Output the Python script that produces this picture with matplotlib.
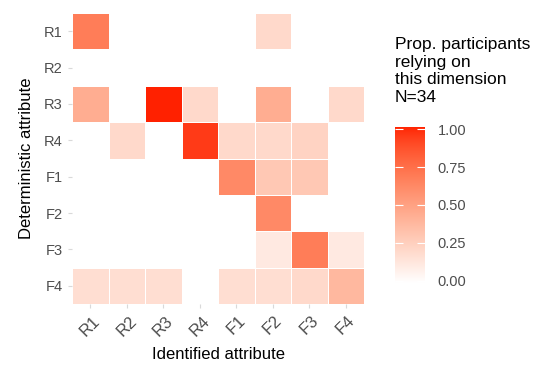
import numpy as np
import matplotlib
matplotlib.use("Agg")
import matplotlib.pyplot as plt
from matplotlib.colors import ListedColormap

plt.rcParams['font.family'] = ['Liberation Sans', 'DejaVu Sans']

# data: proportion of participants (N=34), rows = deterministic, cols = identified
labels = ['R1', 'R2', 'R3', 'R4', 'F1', 'F2', 'F3', 'F4']
counts = [
    [23, 0, 0, 0, 0, 7, 0, 0],    # R1
    [0, 0, 0, 0, 0, 0, 0, 0],     # R2
    [15, 0, 34, 7, 0, 15, 0, 7],  # R3
    [0, 7, 0, 32, 7, 7, 8, 0],    # R4
    [0, 0, 0, 0, 21, 10, 10, 0],  # F1
    [0, 0, 0, 0, 0, 21, 0, 0],    # F2
    [0, 0, 0, 0, 0, 4, 23, 4],    # F3
    [6, 6, 6, 0, 6, 6, 7, 13],    # F4
]
n_part = 34
prop = np.array(counts) / n_part
legend_ticks = [0, 0.25, 0.5, 0.75, 1.0]


# ggplot-like white -> red gradient interpolated in Lab space
def srgb_to_lab(c):
    c = np.asarray(c, float)
    lin = np.where(c <= 0.04045, c / 12.92, ((c + 0.055) / 1.055) ** 2.4)
    M = np.array([[0.4124, 0.3576, 0.1805],
                  [0.2126, 0.7152, 0.0722],
                  [0.0193, 0.1192, 0.9505]])
    xyz = M @ lin / np.array([0.95047, 1.0, 1.08883])
    f = np.where(xyz > 0.008856, np.cbrt(xyz), 7.787 * xyz + 16 / 116)
    return np.array([116 * f[1] - 16, 500 * (f[0] - f[1]), 200 * (f[1] - f[2])])


def lab_to_srgb(lab):
    L, a, b = lab
    fy = (L + 16) / 116
    fx = fy + a / 500
    fz = fy - b / 200
    f = np.array([fx, fy, fz])
    xyz = np.where(f ** 3 > 0.008856, f ** 3, (f - 16 / 116) / 7.787)
    xyz = xyz * np.array([0.95047, 1.0, 1.08883])
    Minv = np.array([[3.2406, -1.5372, -0.4986],
                     [-0.9689, 1.8758, 0.0415],
                     [0.0557, -0.2040, 1.0570]])
    lin = Minv @ xyz
    c = np.where(lin <= 0.0031308, 12.92 * lin, 1.055 * np.clip(lin, 0, None) ** (1 / 2.4) - 0.055)
    return np.clip(c, 0, 1)


lo = srgb_to_lab([1, 1, 1])
hi = srgb_to_lab([1, 0.13, 0.0])
cols = [lab_to_srgb(lo + t * (hi - lo)) for t in np.linspace(0, 1, 256)]
cmap = ListedColormap(cols)

fig = plt.figure(figsize=(5.53, 3.72), dpi=100)
ax = fig.add_axes([72 / 553, 1 - 304 / 372, 292 / 553, 291 / 372])
mesh = ax.pcolormesh(np.arange(9), np.arange(9), prop, cmap=cmap, vmin=0, vmax=1,
                     edgecolors='white', linewidth=0.6)
ax.set_xlim(0, 8)
ax.set_ylim(8, 0)
ax.set_xticks(np.arange(8) + 0.5)
ax.set_xticklabels(labels, rotation=45, ha='center', va='top', fontsize=12, color='#4D4D4D')
ax.set_yticks(np.arange(8) + 0.5)
ax.set_yticklabels(labels, fontsize=10.5, color='#4D4D4D')
ax.tick_params(length=3, color='#D9D9D9', width=0.8)
for s in ax.spines.values():
    s.set_visible(False)
ax.set_xlabel('Identified attribute', fontsize=12, labelpad=6)
ax.set_ylabel('Deterministic attribute', fontsize=12, labelpad=7)

# legend colour bar
cax = fig.add_axes([395 / 553, 1 - 283 / 372, 30 / 553, 156 / 372])
cax.imshow(np.linspace(0, 1, 256)[:, None], cmap=cmap, aspect='auto',
           extent=[0, 1, -0.015, 1.015], origin='lower', vmin=0, vmax=1)
cax.set_xlim(0, 1)
cax.set_ylim(-0.015, 1.015)
cax.set_xticks([])
cax.yaxis.tick_right()
cax.set_yticks(legend_ticks)
cax.set_yticklabels(['%.2f' % t for t in legend_ticks], fontsize=10.5, color='#4D4D4D')
cax.tick_params(axis='y', left=True, right=True, length=6, color='white',
                width=0.8, direction='in', pad=9)
for s in cax.spines.values():
    s.set_visible(False)
fig.text(395 / 553, 1 - 37 / 372,
         'Prop. participants\nrelying on\nthis dimension\nN=' + str(n_part),
         fontsize=12.5, va='top', ha='left', linespacing=1.22)

fig.savefig('out.png', dpi=100)
